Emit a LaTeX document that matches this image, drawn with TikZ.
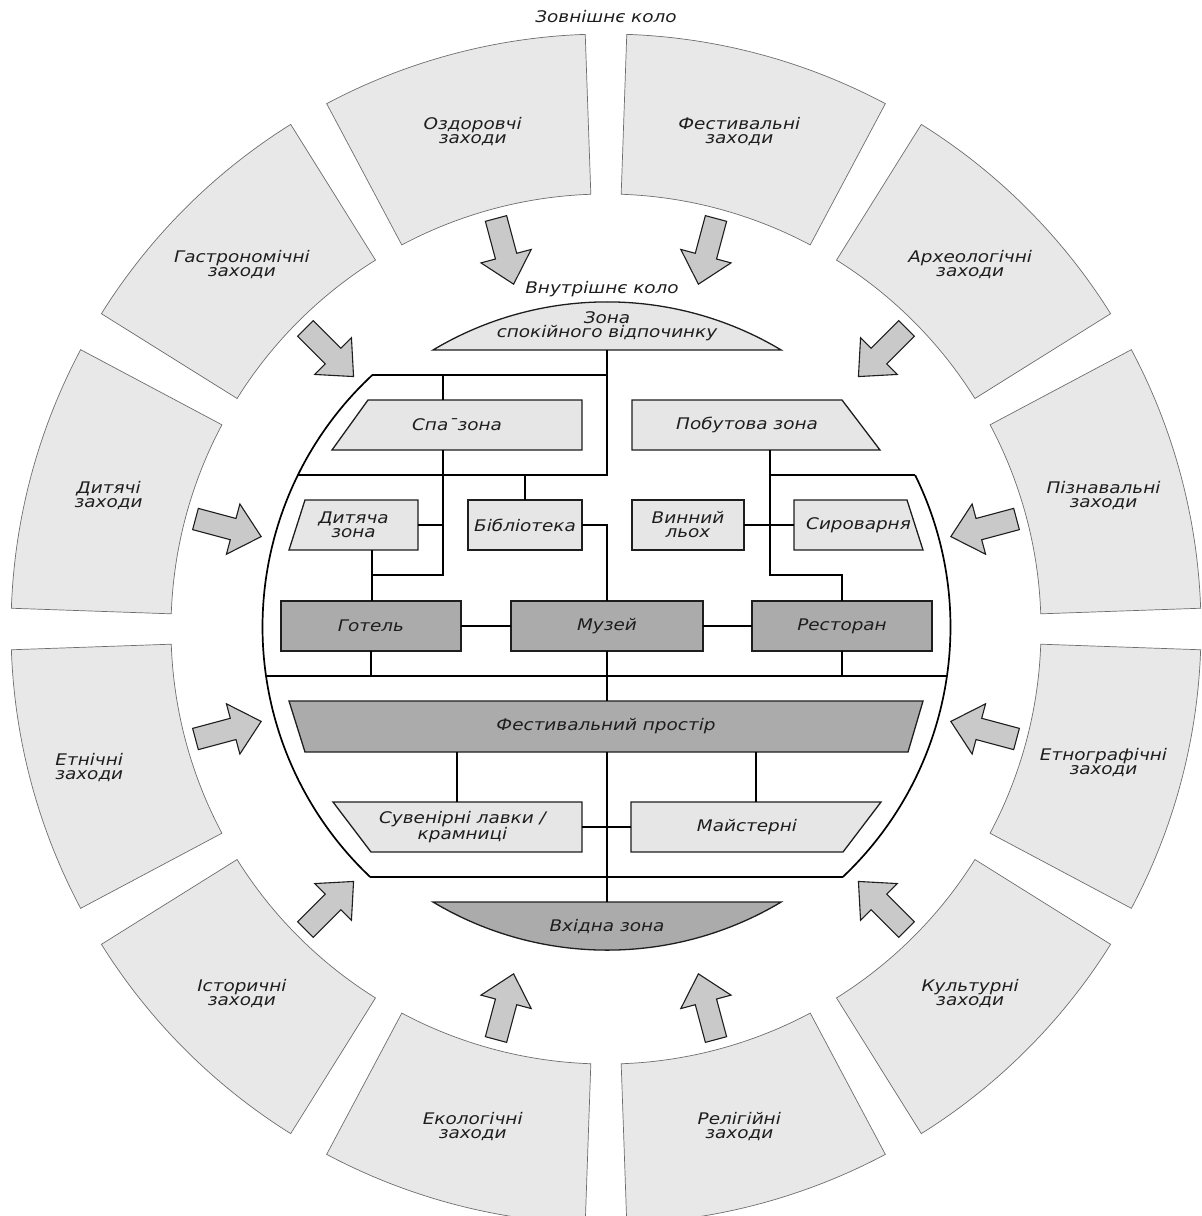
\documentclass[tikz,border=0pt]{standalone}
\usepackage{fontspec}
\newfontfamily\lab{DejaVu Sans}[FakeStretch=1.15]
\usetikzlibrary{calc}
\definecolor{segfill}{HTML}{E8E8E8}
\definecolor{segline}{HTML}{6E6E6E}
\definecolor{lightbox}{HTML}{E6E6E6}
\definecolor{darkbox}{HTML}{ABABAB}
\definecolor{arrfill}{HTML}{C9C9C9}
\definecolor{ink}{HTML}{1E1E1E}
\pgfdeclarelayer{bg}
\pgfsetlayers{bg,main}
\begin{document}
\begin{tikzpicture}[x=1pt,y=1pt,
  seg/.style={fill=segfill,draw=segline,line width=0.7pt},
  blk/.style={fill=arrfill,draw=ink,line width=1.1pt,line join=miter},
  txt/.style={font=\lab\itshape\fontsize{16}{14}\selectfont,text=ink,align=center,inner sep=0pt,outer sep=0pt},
  shp/.style={txt,minimum height=50pt},
  lbox/.style={fill=lightbox,draw=ink,line width=1.3pt},
  dbox/.style={fill=darkbox,draw=ink,line width=1.3pt},
  wire/.style={draw=black,line width=1.7pt},
]
\useasboundingbox (0,0) rectangle (1202,-1216);
\clip (0,0) rectangle (1202,-1216);
\begin{pgfonlayer}{bg}
\fill[white] (0,0) rectangle (1202,-1216);
\end{pgfonlayer}

% ---------------- outer ring ----------------
\node[txt] (outertitle) at (606,-17) {Зовнішнє коло};
\begin{scope}[shift={(606,-629)}]
\foreach \k in {0,...,11}{
  \pgfmathsetmacro\a{30*\k+2}
  \pgfmathsetmacro\b{30*\k+28}
  \pgfmathsetmacro\m{30*\k+15}
  \draw[seg] (\a:435) -- (\a:595) arc[start angle=\a,end angle=\b,radius=595]
        -- (\b:435) arc[start angle=\b,end angle=\a,radius=435] -- cycle;
  \begin{scope}[rotate=\m]
    \draw[blk] (425,-11) -- (386,-11) -- (386,-26) -- (357,0) -- (386,26) -- (386,11) -- (425,11) -- cycle;
  \end{scope}
}
\node[txt] (ozd) at (105:515) {Оздоровчі\\заходи};
\node[txt] (fes) at (75:515) {Фестивальні\\заходи};
\node[txt] (arh) at (45:515) {Археологічні\\заходи};
\node[txt] (piz) at (15:515) {Пізнавальні\\заходи};
\node[txt] (etg) at (-15:515) {Етнографічні\\заходи};
\node[txt] (kul) at (-45:515) {Культурні\\заходи};
\node[txt] (rel) at (-75:515) {Релігійні\\заходи};
\node[txt] (eko) at (-105:515) {Екологічні\\заходи};
\node[txt] (ist) at (-135:515) {Історичні\\заходи};
\node[txt] (etn) at (-165:535) {Етнічні\\заходи};
\node[txt] (dyt) at (165:515) {Дитячі\\заходи};
\node[txt] (gas) at (135:515) {Гастрономічні\\заходи};
\end{scope}
\node[txt] (innertitle) at (602,-289) {Внутрішнє коло};

% ---------------- inner circle frame ----------------
\coordinate (Ci) at (606.5,-627);
\coordinate (TL) at ($(Ci)+(132.9:344)$);
\coordinate (BL) at ($(Ci)+(226.6:344)$);
\coordinate (TR) at ($(Ci)+(26.2:344)$);
\coordinate (BR) at ($(Ci)+(-46.6:344)$);
\coordinate (L475) at ($(Ci)+(153.8:344)$);
\coordinate (L676) at ($(Ci)+(188.2:344)$);
\coordinate (R676) at ($(Ci)+(-8.2:344)$);
\coordinate (cA) at (372,0);
\coordinate (cB) at (443,0);
\coordinate (cD) at (770,0);
\coordinate (cF) at (457,0);
\coordinate (cG) at (756,0);
\coordinate (r575) at (0,-575);

\draw[wire] (TL) arc[start angle=132.9,end angle=226.6,radius=344];
\draw[wire] (TR) arc[start angle=26.2,end angle=-46.6,radius=344];
\draw[wire] (L676) -- (R676);
\draw[wire] (BL) -- (BR);

% ---------------- zones ----------------
\node[txt,minimum width=348pt,minimum height=48pt] (zona) at (607,-326) {Зона\\спокійного відпочинку};
\node[shp,minimum width=250pt] (spa) at (457,-425) {Спа¯зона};
\node[shp,minimum width=248pt] (pob) at (756,-425) {Побутова зона\hspace*{18pt}};
\node[shp,minimum width=129pt] (dit) at (353.5,-525) {Дитяча\\зона};
\node[shp,lbox,minimum width=114pt] (bib) at (525,-525) {Бібліотека};
\node[shp,lbox,minimum width=112pt] (win) at (688,-525) {Винний\\льох};
\node[shp,minimum width=129pt] (sir) at (858.5,-525) {Сироварня};
\node[shp,dbox,minimum width=180pt] (got) at (371,-626) {Готель};
\node[shp,dbox,minimum width=192pt] (muz) at (607,-626) {Музей};
\node[shp,dbox,minimum width=180pt] (res) at (842,-626) {Ресторан};
\node[shp,minimum width=634pt,minimum height=51pt] (fest) at (606,-726.5) {Фестивальний простір};
\node[shp,minimum width=249pt] (suv) at (457.5,-827) {\hspace*{10pt}Сувенірні лавки /\\\hspace*{10pt}крамниці};
\node[shp,minimum width=250pt] (mai) at (756,-827) {Майстерні\hspace*{18pt}};
\node[txt,minimum width=348pt,minimum height=50pt] (vx) at (607,-927) {Вхідна зона};

\begin{pgfonlayer}{bg}
\draw[lbox] (zona.south west) arc[start angle=120.9,end angle=59.1,radius=339] -- cycle;
\draw[dbox] (vx.north west) arc[start angle=-120.9,end angle=-59.1,radius=339] -- cycle;
\draw[lbox] ($(spa.north west)+(36,0)$) -- (spa.north east) -- (spa.south east) -- (spa.south west) -- cycle;
\draw[lbox] (pob.north west) -- ($(pob.north east)+(-38,0)$) -- (pob.south east) -- (pob.south west) -- cycle;
\draw[lbox] ($(dit.north west)+(16,0)$) -- (dit.north east) -- (dit.south east) -- (dit.south west) -- cycle;
\draw[lbox] (sir.north west) -- ($(sir.north east)+(-16,0)$) -- (sir.south east) -- (sir.south west) -- cycle;
\draw[dbox] (fest.north west) -- (fest.north east) -- ($(fest.south east)+(-15,0)$) -- ($(fest.south west)+(16,0)$) -- cycle;
\draw[lbox] (suv.north west) -- (suv.north east) -- (suv.south east) -- ($(suv.south west)+(38,0)$) -- cycle;
\draw[lbox] (mai.north west) -- (mai.north east) -- ($(mai.south east)+(-38,0)$) -- (mai.south west) -- cycle;
\end{pgfonlayer}

% ---------------- connectors ----------------
\draw[wire] (zona.south) |- (L475);
\draw[wire] (TL) -- (TL -| zona.south);
\draw[wire] (TL -| cB) -- (spa.north -| cB);
\draw[wire] (spa.south -| cB) |- (r575 -| cA);
\draw[wire] (dit.south -| cA) -- (got.north -| cA);
\draw[wire] (dit.east) -- (dit.east -| cB);
\draw[wire] (L475 -| bib.north) -- (bib.north);
\draw[wire] (bib.east) -| (muz.north);
\draw[wire] (pob.south -| cD) |- (r575 -| res.north) -- (res.north);
\draw[wire] (L475 -| cD) -- (TR);
\draw[wire] (win.east) -- (sir.west);
\draw[wire] (got.east) -- (muz.west);
\draw[wire] (muz.east) -- (res.west);
\draw[wire] (got.south) -- (got.south |- L676);
\draw[wire] (res.south) -- (res.south |- L676);
\draw[wire] (muz.south) -- (muz.south |- fest.north);
\draw[wire] (fest.south -| cF) -- (suv.north -| cF);
\draw[wire] (fest.south -| cG) -- (mai.north -| cG);
\draw[wire] (fest.south -| muz.south) -- (vx.north -| muz.south);
\draw[wire] (suv.east) -- (mai.west);
\end{tikzpicture}
\end{document}
